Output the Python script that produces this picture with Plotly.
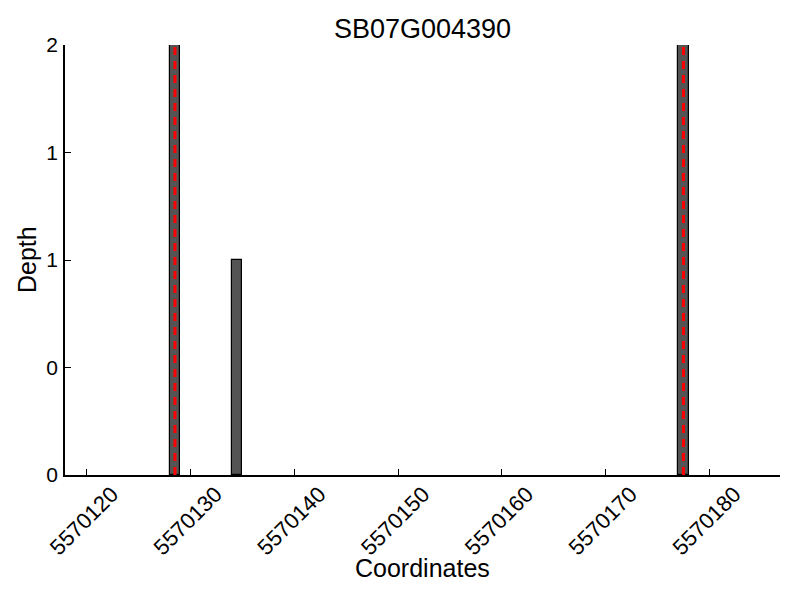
import plotly.graph_objects as go

title = "SB07G004390"
bar_positions = [5570128, 5570134, 5570177]
bar_depths = [2, 1, 2]
marker_positions = [5570128.5, 5570177.5]
x_tick_values = [5570120, 5570130, 5570140, 5570150, 5570160, 5570170, 5570180]
x_tick_labels = [str(v) for v in x_tick_values]
y_tick_values = [0, 0.5, 1, 1.5, 2]
y_tick_labels = ["0", "0", "1", "1", "2"]
x_range = [5570117.9, 5570186.8]
y_range = [0, 2]
x_title = "Coordinates"
y_title = "Depth"

FONT = "Liberation Sans, Arial, sans-serif"
L, R, T, B = 65, 20, 45, 125

fig = go.Figure()
fig.add_trace(go.Bar(
    x=bar_positions, y=bar_depths, width=1, offset=0,
    marker=dict(color="#545454", line=dict(color="black", width=1.2)),
    showlegend=False, hoverinfo="x+y",
))

for p in marker_positions:
    fig.add_shape(type="line", xref="x", yref="paper", x0=p, x1=p, y0=0, y1=1,
                  line=dict(color="red", width=3, dash="8px,6px"), layer="above")

fig.add_annotation(text=x_title, xref="paper", yref="paper", x=0.5, y=-(568 - (600 - B)) / (600 - T - B),
                   xanchor="center", yanchor="middle", showarrow=False,
                   font=dict(size=25, family=FONT, color="black"))
fig.add_annotation(text=y_title, xref="paper", yref="paper", x=-(L - 27) / (800 - L - R), y=0.5,
                   xanchor="center", yanchor="middle", showarrow=False, textangle=-90,
                   font=dict(size=25, family=FONT, color="black"))

fig.update_layout(
    width=800, height=600,
    margin=dict(l=L, r=R, t=T, b=B),
    paper_bgcolor="white", plot_bgcolor="white",
    font=dict(family=FONT, color="black"),
    title=dict(text=title, x=(L + (800 - L - R) / 2) / 800, xanchor="center",
               y=1 - 29 / 600, yanchor="middle",
               font=dict(size=27, family=FONT, color="black")),
    bargap=0,
)
fig.update_xaxes(
    range=x_range, tickmode="array", tickvals=x_tick_values, ticktext=x_tick_labels,
    tickangle=-45, ticks="inside", ticklen=6, tickwidth=1, tickcolor="black",
    showline=True, linecolor="black", linewidth=1.5, showgrid=False, zeroline=False,
    tickfont=dict(size=22, family=FONT), ticklabelshift=25, ticklabelstandoff=-4,
    automargin=False,
)
fig.update_yaxes(
    range=y_range, tickmode="array", tickvals=y_tick_values, ticktext=y_tick_labels,
    ticks="inside", ticklen=6, tickwidth=1, tickcolor="black",
    showline=True, linecolor="black", linewidth=1.5, showgrid=False, zeroline=False,
    tickfont=dict(size=21, family=FONT), ticklabelstandoff=1,
    automargin=False,
)

fig.write_html("out.html", config={"displayModeBar": False},
               post_script="document.body.style.margin='0';")
